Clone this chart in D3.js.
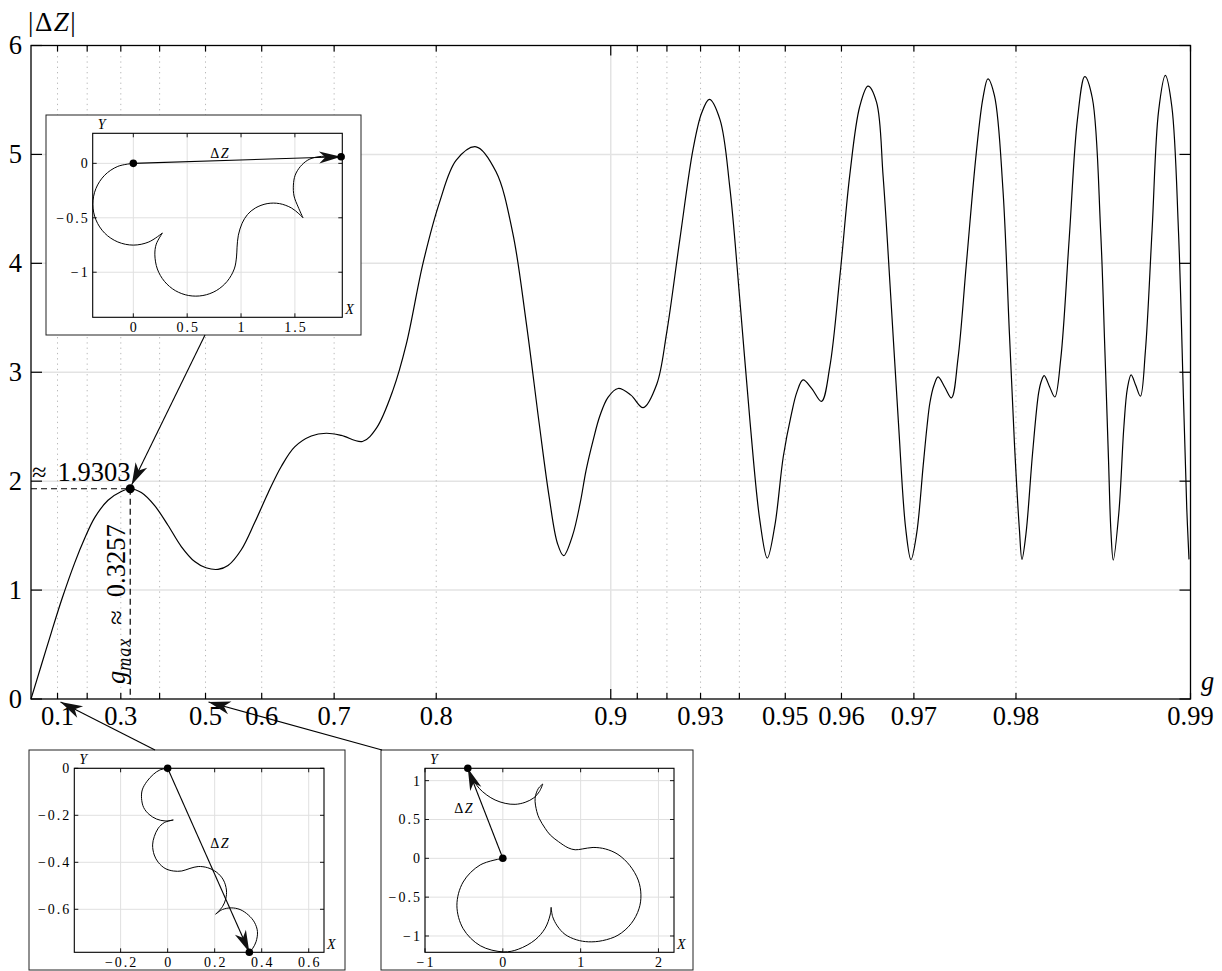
<!DOCTYPE html>
<html><head><meta charset="utf-8">
<script src="https://cdn.jsdelivr.net/npm/d3@7"></script>
<style>
body{margin:0;background:#fff;}
svg{display:block;font-family:"Liberation Serif","DejaVu Serif",serif;}
</style></head><body>
<svg id="c" width="1222" height="971"></svg>
<script>
// ---------------- DATA ----------------
const gValues = [0,0.0401,0.0775,0.1158,0.1593,0.1921,0.2235,0.2635,0.3014,0.3257,0.3547,0.3881,0.4196,0.4495,0.4780,0.5009,0.5242,0.5427,0.5662,0.5887,0.6098,0.6299,0.6491,0.6715,0.6905,0.7084,0.7319,0.7464,0.7626,0.7748,0.7892,0.8026,0.8153,0.8293,0.8423,0.8524,0.8600,0.8672,0.8723,0.8764,0.8794,0.8836,0.8871,0.8897,0.8928,0.8956,0.8989,0.9029,0.9077,0.9121,0.9167,0.9199,0.9240,0.9279,0.9303,0.9324,0.9352,0.9377,0.9401,0.9425,0.9447,0.9463,0.9479,0.9496,0.9512,0.95227,0.9534,0.9550,0.9567,0.9581,0.9598,0.9613,0.9628,0.9640,0.9652,0.9661,0.9671,0.9681,0.9690,0.96965,0.97033,0.97109,0.97152,0.97185,0.97230,0.97275,0.97348,0.97416,0.97482,0.97564,0.97658,0.97720,0.97764,0.97822,0.97893,0.97947,0.97988,0.98027,0.98047,0.98078,0.98128,0.98172,0.98192,0.98212,0.98249,0.98286,0.98326,0.98381,0.98433,0.98478,0.98523,0.98571,0.98595,0.98615,0.98628,0.98641,0.98671,0.98697,0.98715,0.98734,0.98757,0.98780,0.98804,0.98835,0.98865,0.98895,0.98923,0.98951,0.98972,0.98985,0.98994];
const dzValues = [0,0.31,0.61,0.92,1.25,1.475,1.665,1.825,1.905,1.9303,1.895,1.775,1.595,1.40,1.262,1.205,1.19,1.225,1.37,1.62,1.89,2.135,2.315,2.415,2.44,2.42,2.364,2.487,2.838,3.26,4.0,4.56,4.947,5.07,4.84,4.28,3.47,2.52,1.854,1.43,1.316,1.50,1.80,2.10,2.38,2.60,2.77,2.851,2.79,2.675,2.89,3.36,4.22,5.05,5.38,5.506,5.32,4.69,3.67,2.54,1.635,1.294,1.596,2.224,2.616,2.82,2.93,2.85,2.733,3.047,3.91,4.81,5.44,5.627,5.48,4.8,3.71,2.54,1.57,1.28,1.52,2.145,2.5,2.72,2.88,2.957,2.86,2.765,3.125,3.99,5.01,5.52,5.694,5.537,4.69,3.36,2.34,1.557,1.282,1.518,2.263,2.81,2.92,2.969,2.87,2.773,3.125,4.224,5.32,5.714,5.518,4.3,3.2,2.2,1.55,1.275,1.714,2.498,2.85,2.976,2.88,2.78,3.2,4.3,5.4,5.725,5.44,4.30,2.733,1.753,1.282];

const xTickValues = [0.1,0.2,0.3,0.4,0.5,0.6,0.7,0.8,0.9,0.91,0.92,0.93,0.94,0.95,0.96,0.97,0.98,0.99];
const xTickLabels = ["0.1","","0.3","","0.5","0.6","0.7","0.8","0.9","","","0.93","","0.95","0.96","0.97","0.98","0.99"];
const yTickValues = [0,1,2,3,4,5,6];
const gMax = 0.3257;
const dzMax = 1.9303;

// inset at g = gMax (top-left)
const insetMaxXTicks = [0,0.5,1,1.5];
const insetMaxYTicks = [0,-0.5,-1];
const insetMaxSegments = [
  [[0,0],[-0.144,-0.028],[-0.266,-0.109],[-0.347,-0.231],[-0.376,-0.375],[-0.347,-0.519],[-0.266,-0.641],[-0.144,-0.722],[0,-0.751],[0.144,-0.722],[0.27,-0.64]],
  [[0.27,-0.64],[0.213,-0.742],[0.20,-0.84],[0.223,-0.970],[0.289,-1.084],[0.39,-1.169],[0.514,-1.214],[0.646,-1.214],[0.77,-1.169],[0.871,-1.084],[0.937,-0.970],[0.958,-0.86],[0.963,-0.77],[0.975,-0.66],[1.01,-0.55],[1.06,-0.47],[1.133,-0.410],[1.242,-0.370],[1.358,-0.370],[1.468,-0.410],[1.537,-0.463],[1.575,-0.50]],
  [[1.575,-0.50],[1.53,-0.40],[1.492,-0.30],[1.486,-0.20],[1.502,-0.11],[1.55,-0.03],[1.62,0.03],[1.70,0.058],[1.80,0.066],[1.929,0.06]]
];
const insetMaxEnd = [1.929,0.06];

// inset at g = 0.1 (bottom-left)
const insetLowXTicks = [-0.2,0,0.2,0.4,0.6];
const insetLowYTicks = [0,-0.2,-0.4,-0.6];
const insetLowSegments = [
  [[0,0],[-0.033,-0.007],[-0.061,-0.026],[-0.089,-0.057],[-0.108,-0.092],[-0.111,-0.128],[-0.102,-0.167],[-0.079,-0.196],[-0.047,-0.216],[-0.011,-0.224],[0.024,-0.220]],
  [[0.024,-0.220],[-0.014,-0.231],[-0.040,-0.255],[-0.057,-0.291],[-0.064,-0.326],[-0.057,-0.369],[-0.040,-0.400],[-0.011,-0.426],[0.024,-0.437],[0.060,-0.437],[0.095,-0.426],[0.130,-0.418],[0.170,-0.423],[0.209,-0.443],[0.237,-0.475],[0.250,-0.518],[0.247,-0.556],[0.233,-0.589],[0.204,-0.621]],
  [[0.204,-0.621],[0.233,-0.601],[0.270,-0.594],[0.308,-0.601],[0.343,-0.624],[0.369,-0.655],[0.382,-0.695],[0.376,-0.738],[0.362,-0.766],[0.3475,-0.783]]
];
const insetLowEnd = [0.3475,-0.783];

// inset at g = 0.5 (bottom-right)
const insetMidXTicks = [-1,0,1,2];
const insetMidYTicks = [1,0.5,0,-0.5,-1];
const insetMidSegments = [
  [[0,0],[-0.29,-0.085],[-0.51,-0.305],[-0.59,-0.605],[-0.51,-0.905],[-0.29,-1.125],[0.01,-1.205],[0.20,-1.17],[0.415,-1.05],[0.544,-0.90],[0.608,-0.73],[0.621,-0.631]],
  [[0.621,-0.631],[0.64,-0.75],[0.70,-0.87],[0.80,-0.98],[0.95,-1.05],[1.10,-1.075],[1.28,-1.06],[1.48,-0.99],[1.65,-0.84],[1.75,-0.65],[1.775,-0.47],[1.74,-0.28],[1.63,-0.09],[1.48,0.05],[1.32,0.12],[1.16,0.14],[1.02,0.12],[0.93,0.11],[0.84,0.135],[0.715,0.215],[0.61,0.30],[0.544,0.386],[0.47,0.51],[0.437,0.601],[0.415,0.773],[0.458,0.901],[0.514,0.957]],
  [[0.514,0.957],[0.47,0.86],[0.40,0.78],[0.287,0.721],[0.158,0.695],[0.030,0.708],[-0.099,0.751],[-0.206,0.815],[-0.304,0.901],[-0.36,0.98],[-0.42,1.094],[-0.45,1.159]]
];
const insetMidEnd = [-0.45,1.159];

// ---------------- CHART ----------------
const svg = d3.select("#c");
const plot = {left:31, right:1190.5, top:45.5, bottom:699};
const xs = d3.scaleLog().domain([1,0.01]).range([plot.left, plot.right]);
const gx = g => xs(1-g);
const y = d3.scaleLinear().domain([0,6]).range([plot.bottom, plot.top]);
const FS = 26.5;

// grid
const grid = svg.append("g");
grid.selectAll("line.h").data(yTickValues.filter(v=>v>0&&v<6)).join("line")
  .attr("x1",plot.left).attr("x2",plot.right).attr("y1",d=>y(d)).attr("y2",d=>y(d))
  .attr("stroke","#e3e3e3").attr("stroke-width",1.5);
grid.selectAll("line.v").data(xTickValues.filter(d=>d<0.99)).join("line")
  .attr("x1",d=>gx(d)).attr("x2",d=>gx(d)).attr("y1",plot.top).attr("y2",plot.bottom)
  .attr("stroke",d=>d===0.9?"#e3e3e3":"#b8b8b8")
  .attr("stroke-width",d=>d===0.9?1.5:1)
  .attr("stroke-dasharray",d=>d===0.9?null:"1.3,4");

// curve
const pts = gValues.map((g,i)=>[gx(g), y(dzValues[i])]);
svg.append("path").attr("d", d3.line().curve(d3.curveCatmullRom.alpha(0.5))(pts))
  .attr("fill","none").attr("stroke","#000").attr("stroke-width",1.2);

// frame
svg.append("rect").attr("x",plot.left).attr("y",plot.top)
  .attr("width",plot.right-plot.left).attr("height",plot.bottom-plot.top)
  .attr("fill","none").attr("stroke","#000").attr("stroke-width",1.3);

// ticks
const tk = svg.append("g").attr("stroke","#000").attr("stroke-width",1.2);
xTickValues.forEach(d=>{
  const L = d===0.9?10:6;
  tk.append("line").attr("x1",gx(d)).attr("x2",gx(d)).attr("y1",plot.bottom).attr("y2",plot.bottom-L);
  tk.append("line").attr("x1",gx(d)).attr("x2",gx(d)).attr("y1",plot.top).attr("y2",plot.top+L);
});
yTickValues.forEach(v=>{
  tk.append("line").attr("x1",plot.left).attr("x2",plot.left+11).attr("y1",y(v)).attr("y2",y(v));
  tk.append("line").attr("x1",plot.right).attr("x2",plot.right-11).attr("y1",y(v)).attr("y2",y(v));
});

// tick labels
svg.append("g").selectAll("text").data(xTickValues.map((d,i)=>[d,xTickLabels[i]]).filter(d=>d[1]!==""))
  .join("text").attr("x",d=>gx(d[0])).attr("y",725).attr("text-anchor","middle")
  .attr("font-size",FS).text(d=>d[1]);
svg.append("g").selectAll("text").data(yTickValues).join("text")
  .attr("x",22).attr("y",d=>y(d)+8.5).attr("text-anchor","end").attr("font-size",FS).text(d=>d);

// axis titles
const yt = svg.append("text").attr("x",28).attr("y",31).attr("font-size",27).attr("letter-spacing",1.5);
yt.append("tspan").text("|Δ");
yt.append("tspan").attr("font-style","italic").text("Z");
yt.append("tspan").text("|");
svg.append("text").attr("x",1201).attr("y",690).attr("font-size",FS).attr("font-style","italic").text("g");

// max annotation
svg.append("line").attr("x1",plot.left).attr("x2",gx(gMax)).attr("y1",y(dzMax)).attr("y2",y(dzMax))
  .attr("stroke","#000").attr("stroke-width",1.2).attr("stroke-dasharray","6,4");
svg.append("line").attr("x1",gx(gMax)).attr("x2",gx(gMax)).attr("y1",y(dzMax)).attr("y2",plot.bottom)
  .attr("stroke","#000").attr("stroke-width",1.2).attr("stroke-dasharray","6,4");
svg.append("circle").attr("cx",gx(gMax)).attr("cy",y(dzMax)).attr("r",4.5).attr("fill","#000");
const t1 = svg.append("text").attr("x",32).attr("y",481).attr("font-size",FS);
t1.append("tspan").text("≈");
t1.append("tspan").attr("dx",11).text(dzMax.toFixed(4));
const t2 = svg.append("text").attr("transform",`translate(${gx(gMax)-5},684) rotate(-90)`).attr("font-size",FS);
t2.append("tspan").attr("font-style","italic").text("g");
t2.append("tspan").attr("font-style","italic").attr("font-size",18).attr("dy",5).attr("letter-spacing",1).text("max");
t2.append("tspan").attr("dy",-5).attr("dx",13).text("≈");
t2.append("tspan").attr("dx",13).text(gMax.toFixed(4));

// arrow helper
function arrow(g,x1,y1,x2,y2,L,Wd){
  g.append("line").attr("x1",x1).attr("y1",y1).attr("x2",x2).attr("y2",y2)
    .attr("stroke","#000").attr("stroke-width",1.1);
  const a = Math.atan2(y2-y1,x2-x1)*180/Math.PI;
  g.append("path").attr("d",`M0,0 L${-L},${-Wd} L${-0.72*L},0 L${-L},${Wd} Z`)
    .attr("transform",`translate(${x2},${y2}) rotate(${a})`).attr("fill","#111");
}

// insets
function drawInset(cfg){
  const g = svg.append("g");
  const [bx0,by0,bx1,by1] = cfg.box;
  const [ix0,iy0,ix1,iy1] = cfg.inner;
  g.append("rect").attr("x",bx0).attr("y",by0).attr("width",bx1-bx0).attr("height",by1-by0)
    .attr("fill","#fff").attr("stroke","#222").attr("stroke-width",1);
  const sx = d3.scaleLinear().domain(cfg.xDomain).range([ix0,ix1]);
  const sy = d3.scaleLinear().domain(cfg.yDomain).range([iy1,iy0]);
  g.selectAll("line.gx").data(cfg.xTicks).join("line").attr("class","gx")
    .attr("x1",d=>sx(d)).attr("x2",d=>sx(d)).attr("y1",iy0).attr("y2",iy1)
    .attr("stroke","#e0e0e0").attr("stroke-width",1);
  g.selectAll("line.gy").data(cfg.yTicks).join("line").attr("class","gy")
    .attr("x1",ix0).attr("x2",ix1).attr("y1",d=>sy(d)).attr("y2",d=>sy(d))
    .attr("stroke","#e0e0e0").attr("stroke-width",1);
  const t = g.append("g").attr("stroke","#000").attr("stroke-width",0.9);
  cfg.xTicks.forEach(d=>{
    t.append("line").attr("x1",sx(d)).attr("x2",sx(d)).attr("y1",iy1).attr("y2",iy1-4);
    t.append("line").attr("x1",sx(d)).attr("x2",sx(d)).attr("y1",iy0).attr("y2",iy0+4);
  });
  cfg.yTicks.forEach(d=>{
    t.append("line").attr("x1",ix0).attr("x2",ix0+4).attr("y1",sy(d)).attr("y2",sy(d));
    t.append("line").attr("x1",ix1).attr("x2",ix1-4).attr("y1",sy(d)).attr("y2",sy(d));
  });
  g.append("rect").attr("x",ix0).attr("y",iy0).attr("width",ix1-ix0).attr("height",iy1-iy0)
    .attr("fill","none").attr("stroke","#000").attr("stroke-width",1.1);
  const fmt = d3.format("");
  g.selectAll("text.xl").data(cfg.xTicks).join("text").attr("class","xl")
    .attr("x",d=>sx(d)+1).attr("y",iy1+15).attr("text-anchor","middle")
    .attr("font-size",14).attr("letter-spacing",2).text(d=>fmt(d));
  g.selectAll("text.yl").data(cfg.yTicks).join("text").attr("class","yl")
    .attr("x",ix0-3).attr("y",d=>sy(d)+5).attr("text-anchor","end")
    .attr("font-size",14).attr("letter-spacing",2).text(d=>fmt(d));
  g.append("text").attr("x",ix0+5).attr("y",iy0-4).attr("font-size",14).attr("font-style","italic").text("Y");
  g.append("text").attr("x",ix1+3).attr("y",iy1-3).attr("font-size",14).attr("font-style","italic").text("X");
  const line = d3.line().x(d=>sx(d[0])).y(d=>sy(d[1])).curve(d3.curveCatmullRom.alpha(0.5));
  cfg.segments.forEach(s=>{
    g.append("path").attr("d",line(s)).attr("fill","none").attr("stroke","#000").attr("stroke-width",1);
  });
  arrow(g, sx(0), sy(0), sx(cfg.end[0]), sy(cfg.end[1]), 22, 6);
  g.append("circle").attr("cx",sx(0)).attr("cy",sy(0)).attr("r",3.8).attr("fill","#000");
  g.append("circle").attr("cx",sx(cfg.end[0])).attr("cy",sy(cfg.end[1])).attr("r",3.8).attr("fill","#000");
  const lt = g.append("text").attr("x",sx(cfg.label[0])).attr("y",sy(cfg.label[1])+5)
    .attr("text-anchor","middle").attr("font-size",14).attr("letter-spacing",1.5);
  lt.append("tspan").text("Δ");
  lt.append("tspan").attr("font-style","italic").text("Z");
}

drawInset({box:[46,115,361,335], inner:[92.7,133.3,342.3,317.3],
  xDomain:[-0.377,1.94], yDomain:[-1.414,0.276],
  xTicks:insetMaxXTicks, yTicks:insetMaxYTicks, segments:insetMaxSegments, end:insetMaxEnd, label:[0.805,0.095]});
drawInset({box:[29,750,345,970], inner:[74.3,768.3,324,952.3],
  xDomain:[-0.397,0.665], yDomain:[-0.783,0],
  xTicks:insetLowXTicks, yTicks:insetLowYTicks, segments:insetLowSegments, end:insetLowEnd, label:[0.223,-0.318]});
drawInset({box:[381,750,693,970], inner:[425,768.3,674,952.3],
  xDomain:[-1,2.2], yDomain:[-1.21,1.159],
  xTicks:insetMidXTicks, yTicks:insetMidYTicks, segments:insetMidSegments, end:insetMidEnd, label:[-0.497,0.647]});

// connector arrows
const ag = svg.append("g");
arrow(ag, 205, 335, gx(gMax)+1.5, y(dzMax)-4, 22, 6.5);
arrow(ag, 155, 750, gx(0.1)+3, plot.bottom+3, 22, 6.5);
arrow(ag, 382, 750, gx(0.5)+3, plot.bottom+3, 22, 6.5);
</script>
</body></html>
